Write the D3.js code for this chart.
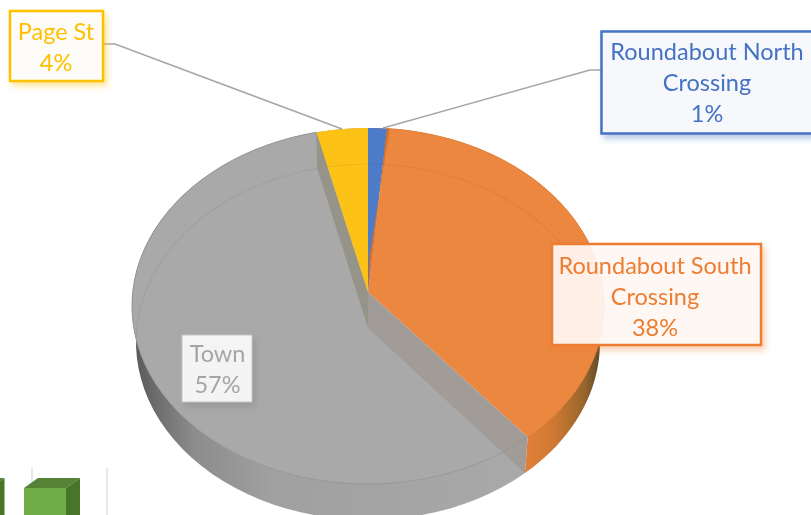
<!DOCTYPE html>
<html><head><meta charset="utf-8">
<script src="https://cdn.jsdelivr.net/npm/d3@7/dist/d3.min.js"></script>
<style>html,body{margin:0;padding:0;background:#fff;overflow:hidden}svg{display:block}text{font-family:Lato,"Open Sans",sans-serif}</style>
</head><body><svg id="c" width="811" height="515"></svg>
<script>
// Data
const categories = ["Roundabout North Crossing","Roundabout South Crossing","Town","Page St"];
const values = [1.4,37.6,57.2,3.8];
const percentLabels = ["1%","38%","57%","4%"];
const sliceColors = ["#4f7cc9","#ec8741","#a9a9a9","#fdc217"];
const labelColors = ["#4472c4","#ed7d31","#a5a5a5","#ffc000"];
const labelLines = [["Roundabout North","Crossing"],["Roundabout South","Crossing"],["Town"],["Page St"]];
const barCategories = ["a","b"];
const barValues = [4.6,4.6];

const svg = d3.select("#c");
const defs = svg.append("defs");
const soft = defs.append("filter").attr("id","soft").attr("x","-5%").attr("y","-5%").attr("width","110%").attr("height","110%");
soft.append("feGaussianBlur").attr("stdDeviation",0.7);

labelColors.forEach((c,i)=>{
  const f = defs.append("filter").attr("id","sh"+i).attr("x","-15%").attr("y","-15%").attr("width","135%").attr("height","135%");
  f.append("feDropShadow").attr("dx",3).attr("dy",4).attr("stdDeviation",3).attr("flood-color",i===2?"#777":c).attr("flood-opacity",0.4);
});
function grad(id,stops){
  const g = defs.append("linearGradient").attr("id",id).attr("gradientUnits","userSpaceOnUse")
    .attr("x1",stops.x1).attr("x2",stops.x2).attr("y1",0).attr("y2",0);
  stops.s.forEach(([o,c])=>g.append("stop").attr("offset",o).attr("stop-color",c));
}
grad("graySide",{x1:136,x2:525,s:[[0,"#5a5a5a"],[0.05,"#6c6c6c"],[0.15,"#8c8c8c"],[0.35,"#a0a0a0"],[1,"#a9a9a9"]]});
grad("orangeSide",{x1:524,x2:600,s:[[0,"#e28039"],[0.4,"#cf7831"],[0.8,"#95652c"],[1,"#5e4a2c"]]});

// perspective mapping of the unit pie circle on an ellipse
const CX=368, TOP={cy:306,rx:236,ry:178}, BOT={cy:342,rx:232,ry:178}, K=-0.079;
function proj(theta,r,e){
  const u=r*Math.sin(theta), v=-r*Math.cos(theta), d=1+K*v;
  return [CX+e.rx*u*Math.sqrt(1-K*K)/d, e.cy+e.ry*(v+K)/d];
}
const pie = d3.pie().sort(null).value(d=>d)(values);
const line = d3.line();
const arcPts=(a0,a1,e)=>d3.range(0,61).map(i=>proj(a0+(a1-a0)*i/60,1,e));

const root = svg.append("g").attr("filter","url(#soft)");

// cropped neighbouring bar chart, bottom-left
const xB = d3.scaleBand().domain(barCategories).range([-51.5,80]).paddingInner(0.258);
const yB = d3.scaleLinear().domain([0,4.6]).range([515,478]);
const gB = root.append("g");
[32,107].forEach(x=>gB.append("line").attr("x1",x).attr("x2",x).attr("y1",468).attr("y2",515).attr("stroke","#d9d9d9").attr("stroke-width",1.2));
barCategories.forEach((c,i)=>{
  const x0=xB(c), x1=x0+xB.bandwidth(), t=yB(barValues[i]), off=14, rise=10;
  gB.append("path").attr("d",line([[x0,t+rise],[x0+off,t],[x1,t],[x1-off,t+rise]])+"Z").attr("fill","#548235");
  gB.append("path").attr("d",line([[x1-off,t+rise],[x1,t],[x1,515],[x1-off,515]])+"Z").attr("fill","#4a7529");
  gB.append("rect").attr("x",x0).attr("y",t+rise).attr("width",xB.bandwidth()-off).attr("height",515-t-rise).attr("fill","#70ad47");
});

// outer side walls
const sideFill=["#c9742f","url(#orangeSide)","url(#graySide)","#a9a9a9"];
pie.forEach((p,i)=>{
  root.append("path").attr("d",line(arcPts(p.startAngle,p.endAngle,TOP).concat(arcPts(p.startAngle,p.endAngle,BOT).reverse()))+"Z").attr("fill",sideFill[i]);
});
// top faces
const apex=proj(0,0,TOP), apexB=proj(0,0,BOT);
pie.forEach((p,i)=>{
  root.append("path").attr("d",line([apex].concat(arcPts(p.startAngle,p.endAngle,TOP)))+"Z").attr("fill",sliceColors[i]);
});
// rim of the top face
root.append("path").attr("d",line(arcPts(pie[2].startAngle,pie[2].endAngle,TOP))).attr("fill","none").attr("stroke","#959595").attr("stroke-width",1);
root.append("path").attr("d",line(arcPts(pie[1].startAngle,pie[1].endAngle,TOP))).attr("fill","none").attr("stroke","#e07f39").attr("stroke-width",1);

// faint base ellipse seen through the top
const clipPath=defs.append("clipPath").attr("id","topClip");
clipPath.append("path").attr("d",line(arcPts(0,2*Math.PI,TOP))+"Z");
root.append("path").attr("clip-path","url(#topClip)").attr("d",line(arcPts(0,2*Math.PI,BOT))+"Z").attr("fill","none").attr("stroke","#000").attr("stroke-opacity",0.05).attr("stroke-width",1.2);

// see-through inner walls
const wall=(a,fill,op)=>root.append("path").attr("d",line([proj(a,1,TOP),apex,apexB,proj(a,1,BOT)])+"Z").attr("fill",fill).attr("fill-opacity",op);
wall(pie[2].startAngle,"#968a80",0.4);
wall(pie[3].startAngle,"#8e8a7c",0.7);
// dark sliver on the orange edge next to the blue slice
const a1=pie[0].endAngle;
root.append("path").attr("d",line([apex,proj(a1,1,TOP),proj(a1+0.012,1,TOP),proj(0.03,0.2,TOP)])+"Z").attr("fill","#d9702c");

// leader lines
root.append("path").attr("d",line([[103,44],[115,44],[342,129]])).attr("fill","none").attr("stroke","#a6a6a6").attr("stroke-width",1.5);
root.append("path").attr("d",line([[601,70],[590,70],[383,128]])).attr("fill","none").attr("stroke","#a6a6a6").attr("stroke-width",1.5);

// data labels
const boxes=[
  {x:601.5,y:31.5,w:230,h:102,cx:707,base:60,fill:"#f7f9fc",op:0.98,sw:2.5},
  {x:552,y:244,w:209,h:101,cx:655,base:274,fill:"#fffaf6",op:0.9,sw:2.5},
  {x:182,y:335,w:70,h:67,cx:217.5,base:362,fill:"#fff",op:0.88,sw:1},
  {x:10,y:11,w:93,h:70,cx:56,base:40,fill:"#fdfdf9",op:0.98,sw:2.5}
];
categories.forEach((c,i)=>{
  const b=boxes[i], col=labelColors[i];
  const g=root.append("g").attr("class","label").attr("data-name",c);
  g.append("rect").attr("x",b.x).attr("y",b.y).attr("width",b.w).attr("height",b.h)
    .attr("fill",b.fill).attr("fill-opacity",b.op)
    .attr("stroke",i===2?"#c4c4c4":col).attr("stroke-width",b.sw)
    .attr("filter",`url(#sh${i})`);
  labelLines[i].concat(percentLabels[i]).forEach((t,j)=>{
    g.append("text").attr("x",b.cx).attr("y",b.base+j*31).attr("text-anchor","middle")
      .attr("font-size",23.5).attr("fill",col).text(t);
  });
});
</script></body></html>
